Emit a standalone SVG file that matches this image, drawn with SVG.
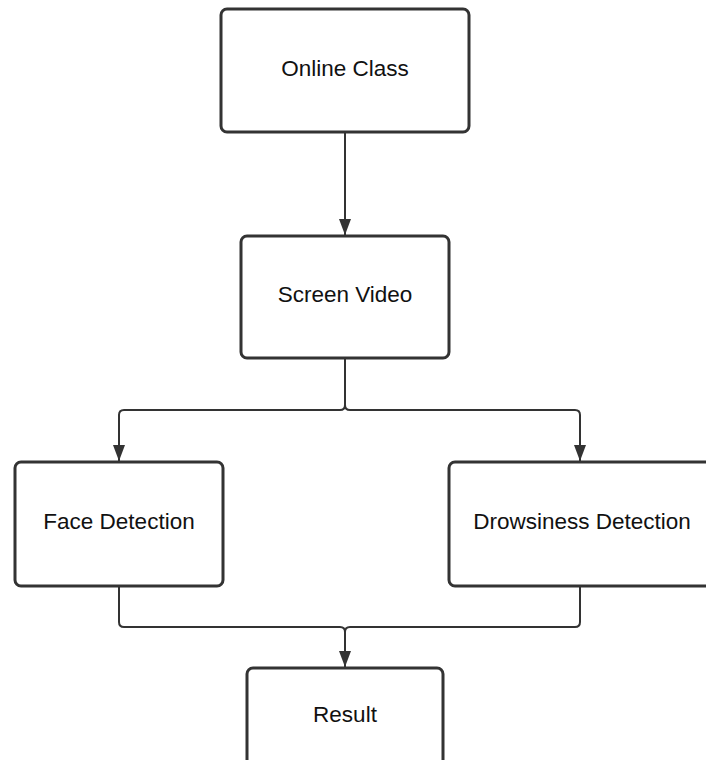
<svg xmlns="http://www.w3.org/2000/svg" width="706" height="760" viewBox="0 0 706 760">
<style>
.box{fill:#fff;stroke:#333;stroke-width:3}
.lbl{font-family:"Liberation Sans",Arial,sans-serif;font-size:22.5px;fill:#111;text-anchor:middle;dominant-baseline:central}
.conn{fill:none;stroke:#333;stroke-width:2}
</style>
<defs>
<marker id="arr" markerWidth="16" markerHeight="12" refX="16" refY="6" orient="auto" markerUnits="userSpaceOnUse" viewBox="0 0 16 12">
<path d="M0,0 L16,6 L0,12 Z" fill="#333"/>
</marker>
</defs>
<rect width="706" height="760" fill="#fff"/>
<g id="connectors">
<path class="conn" d="M345,133 V235" marker-end="url(#arr)"/>
<path class="conn" d="M345,359 V405 Q345,410 340,410 H124 Q119,410 119,415 V461" marker-end="url(#arr)"/>
<path class="conn" d="M345,359 V405 Q345,410 350,410 H575 Q580,410 580,415 V461" marker-end="url(#arr)"/>
<path class="conn" d="M119,587 V622 Q119,627 124,627 H340 Q345,627 345,632 V667" marker-end="url(#arr)"/>
<path class="conn" d="M580,587 V622 Q580,627 575,627 H350 Q345,627 345,632"/>
</g>
<g id="online-class">
<rect class="box" x="221" y="9" width="248" height="123" rx="6"/>
<text class="lbl" x="345" y="68">Online Class</text>
</g>
<g id="screen-video">
<rect class="box" x="241" y="236" width="208" height="122" rx="6"/>
<text class="lbl" x="345" y="294">Screen Video</text>
</g>
<g id="face-detection">
<rect class="box" x="15" y="462" width="208" height="124" rx="6"/>
<text class="lbl" x="119" y="521">Face Detection</text>
</g>
<g id="drowsiness-detection">
<rect class="box" x="449" y="462" width="270" height="124" rx="6"/>
<text class="lbl" x="582" y="521">Drowsiness Detection</text>
</g>
<g id="result">
<rect class="box" x="247" y="668" width="196" height="110" rx="6"/>
<text class="lbl" x="345" y="714">Result</text>
</g>
</svg>
